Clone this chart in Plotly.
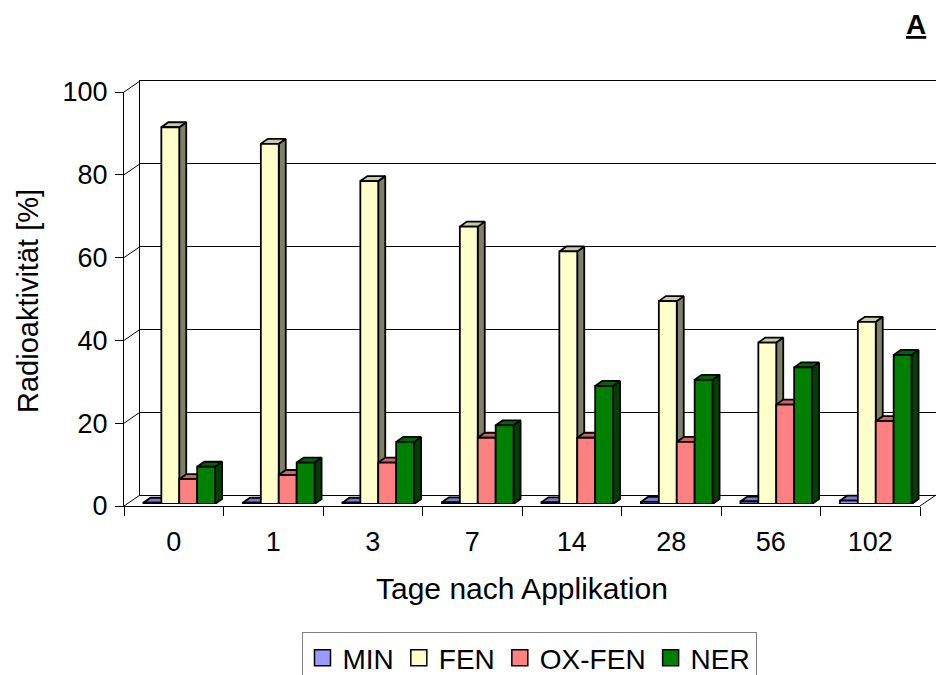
import plotly.graph_objects as go

# ---- data ----
categories = ["0", "1", "3", "7", "14", "28", "56", "102"]
series_names = ["MIN", "FEN", "OX-FEN", "NER"]
MIN = [0.3, 0.3, 0.3, 0.4, 0.4, 0.5, 0.6, 0.8]
FEN = [91, 87, 78, 67, 61, 49, 39, 44]
OX_FEN = [6, 7, 10, 16, 16, 15, 24, 20]
NER = [9, 10, 15, 19, 28.5, 30, 33, 36]
y_ticks = [0, 20, 40, 60, 80, 100]

# ---- style ----
FONT = "Liberation Sans, Arial, sans-serif"
front_col = ["#9999FF", "#FFFFCC", "#FF8080", "#008000"]
top_col = ["#7A7ACC", "#CCCCA3", "#CC6666", "#006600"]
side_col = ["#4D4D80", "#808066", "#804040", "#004000"]

W, H = 936, 675
ML, MR, MT, MB = 124, 0, 81, 169
PW, PH = W - ML - MR, H - MT - MB  # 812 x 425
FRONT_W, FRONT_H = 796, 414
DX_WALL, DY_WALL = 16, 11
DX_BAR, DY_BAR = 5.5, 2

n = len(categories)
xr = [-0.5, n - 0.5]
yr = [0, 100]
px_per_x = FRONT_W / n
px_per_y = FRONT_H / 100.0

bar_w = 0.18
depth_dx = 7 / px_per_x
depth_dy = 5 / px_per_y
outline = dict(color="black", width=1.8)

fig = go.Figure()

values = [MIN, FEN, OX_FEN, NER]
for si, vals in enumerate(values):
    off0 = -2 * bar_w + si * bar_w
    fx, fy, tx, ty, sx, sy = [], [], [], [], [], []
    for ci, v in enumerate(vals):
        x0 = ci + off0
        x1 = x0 + bar_w
        fx += [x0, x1, x1, x0, x0, None]
        fy += [0, 0, v, v, 0, None]
        tx += [x0, x1, x1 + depth_dx, x0 + depth_dx, x0, None]
        ty += [v, v, v + depth_dy, v + depth_dy, v, None]
        sx += [x1, x1 + depth_dx, x1 + depth_dx, x1, x1, None]
        sy += [0, depth_dy, v + depth_dy, v, 0, None]
    for xs, ys, col in ((sx, sy, side_col[si]), (tx, ty, top_col[si]), (fx, fy, front_col[si])):
        fig.add_trace(go.Scatter(x=xs, y=ys, mode="lines", fill="toself", fillcolor=col,
                                 line=outline, xaxis="x3", yaxis="y3", showlegend=False,
                                 hoverinfo="skip"))

# legend entries
for si, name in enumerate(series_names):
    fig.add_trace(go.Scatter(x=[None], y=[None], mode="markers", name=name,
                             marker=dict(symbol="square", size=16, color=front_col[si],
                                         line=dict(color="black", width=1.5)),
                             xaxis="x3", yaxis="y3"))

# dummy traces to activate front and back axes
fig.add_trace(go.Scatter(x=[None], y=[None], xaxis="x", yaxis="y", showlegend=False))
fig.add_trace(go.Scatter(x=[None], y=[None], xaxis="x2", yaxis="y2", showlegend=False))

shapes = []
for v in y_ticks:
    yf = (v * px_per_y) / PH
    shapes.append(dict(type="line", xref="paper", yref="paper", x0=0, y0=yf,
                       x1=DX_WALL / PW, y1=yf + DY_WALL / PH,
                       line=dict(color="black", width=1)))
shapes.append(dict(type="line", xref="paper", yref="paper", x0=FRONT_W / PW, y0=0,
                   x1=(FRONT_W + DX_WALL) / PW, y1=DY_WALL / PH,
                   line=dict(color="black", width=1)))

fig.update_layout(
    width=W, height=H,
    margin=dict(l=ML, r=MR, t=MT, b=MB, autoexpand=False),
    paper_bgcolor="white", plot_bgcolor="rgba(0,0,0,0)",
    font=dict(family=FONT, size=27, color="black"),
    shapes=shapes,
    xaxis=dict(domain=[0, FRONT_W / PW], range=xr, tickmode="array",
               tickvals=list(range(n)), ticktext=categories, ticks="", ticklen=0,
               showline=True, linecolor="black", linewidth=1, showgrid=False, zeroline=False,
               ticklabelstandoff=12, tickfont=dict(size=27),
               minor=dict(tickmode="array", tickvals=[i - 0.5 for i in range(n + 1)],
                          ticks="outside", ticklen=9, tickcolor="black", tickwidth=1,
                          showgrid=False),
               anchor="y", fixedrange=True),
    yaxis=dict(domain=[0, FRONT_H / PH], range=yr, tickmode="array", tickvals=y_ticks,
               ticks="outside", ticklen=8, tickcolor="black", tickwidth=1,
               showline=True, linecolor="black", linewidth=1, showgrid=False, zeroline=False,
               tickfont=dict(size=27), ticklabelstandoff=2, anchor="x", fixedrange=True),
    xaxis2=dict(domain=[DX_WALL / PW, 1], range=xr, showticklabels=False, ticks="",
                showline=True, mirror=True, linecolor="black", linewidth=1,
                showgrid=False, zeroline=False, anchor="y2", fixedrange=True),
    yaxis2=dict(domain=[DY_WALL / PH, 1], range=yr, tickmode="array", tickvals=y_ticks,
                showticklabels=False, ticks="", showline=True, linecolor="black", linewidth=1,
                showgrid=True, gridcolor="black", gridwidth=1, zeroline=False,
                anchor="x2", fixedrange=True),
    xaxis3=dict(domain=[DX_BAR / PW, (FRONT_W + DX_BAR) / PW], range=xr, visible=False,
                anchor="y3", fixedrange=True),
    yaxis3=dict(domain=[DY_BAR / PH, (FRONT_H + DY_BAR) / PH], range=yr, visible=False,
                anchor="x3", fixedrange=True),
    legend=dict(orientation="h", x=(529 - ML) / PW, xanchor="center",
                y=(506 - 632) / PH, yanchor="top", bordercolor="#808080", borderwidth=1,
                bgcolor="white", font=dict(size=28), itemwidth=30, tracegroupgap=0),
    annotations=[
        dict(text="Radioaktivität [%]", xref="paper", yref="paper",
             x=(28 - ML) / PW, y=(506 - 301) / PH, textangle=-90, showarrow=False,
             font=dict(size=29), xanchor="center", yanchor="middle"),
        dict(text="Tage nach Applikation", xref="paper", yref="paper",
             x=(522 - ML) / PW, y=(506 - 588) / PH, showarrow=False,
             font=dict(size=30), xanchor="center", yanchor="middle"),
        dict(text="<b><u>A</u></b>", xref="paper", yref="paper",
             x=(916 - ML) / PW, y=(506 - 24) / PH, showarrow=False,
             font=dict(size=28), xanchor="center", yanchor="middle"),
    ],
)

fig.write_html("out.html", config={"displayModeBar": False},
               post_script="document.body.style.margin='0px';")
